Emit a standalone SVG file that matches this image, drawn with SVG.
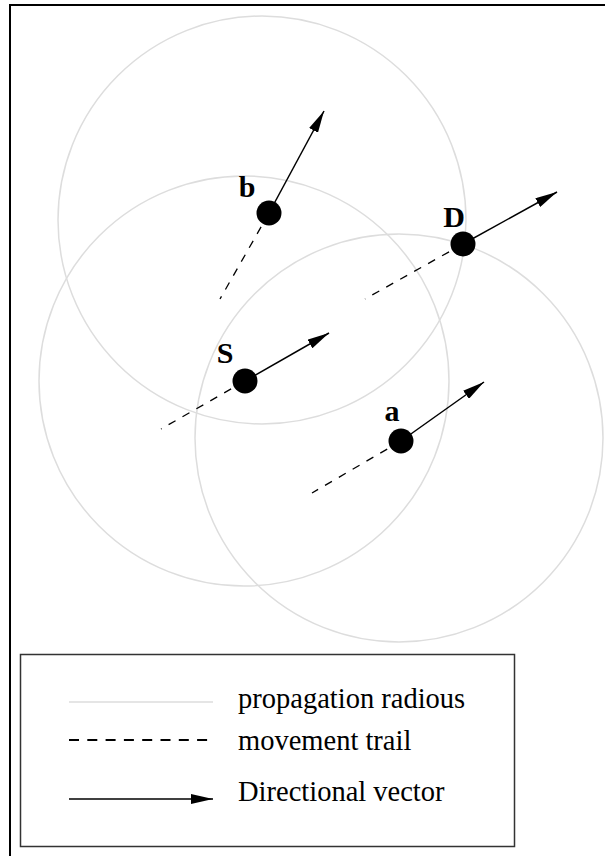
<svg xmlns="http://www.w3.org/2000/svg" width="605" height="856" viewBox="0 0 605 856">
<style>
.rad{fill:none;stroke:#dddddd;stroke-width:1.5}
.trail{stroke:#000;stroke-width:1.3;stroke-dasharray:8 8;fill:none}
.vec{stroke:#000;stroke-width:1.5;fill:none;marker-end:url(#ah)}
.node{fill:#000}
.lbl{font-family:"Liberation Serif","Times New Roman",serif;font-weight:bold;font-size:30px;fill:#000;text-anchor:middle}
.leg{font-family:"Liberation Serif","Times New Roman",serif;font-size:28.5px;fill:#000}
</style>
<defs>
<marker id="ah" viewBox="0 0 22 10" refX="22" refY="5" markerWidth="22" markerHeight="10" markerUnits="userSpaceOnUse" orient="auto">
<path d="M0,0 L22,5 L0,10 z" fill="#000"/>
</marker>
</defs>
<rect x="0" y="0" width="605" height="856" fill="#fff"/>
<rect x="10" y="5" width="620" height="880" fill="none" stroke="#000" stroke-width="2"/>
<g id="radii">
<circle class="rad" cx="262" cy="220" r="204"/>
<circle class="rad" cx="244" cy="381" r="205"/>
<circle class="rad" cx="399" cy="438" r="204"/>
</g>
<g id="connectors">
<line class="trail" x1="269" y1="213" x2="220" y2="299"/>
<line class="vec" x1="269" y1="213" x2="324" y2="111"/>
<line class="trail" x1="463" y1="244" x2="365" y2="299"/>
<line class="vec" x1="463" y1="244" x2="557" y2="192"/>
<line class="trail" x1="245" y1="381" x2="161" y2="429"/>
<line class="vec" x1="245" y1="381" x2="329" y2="333"/>
<line class="trail" x1="401" y1="441" x2="312" y2="493"/>
<line class="vec" x1="401" y1="441" x2="484" y2="382"/>
</g>
<g id="node-b"><circle class="node" cx="269" cy="213" r="12.5"/><text class="lbl" x="247" y="197">b</text></g>
<g id="node-D"><circle class="node" cx="463" cy="244" r="12.5"/><text class="lbl" x="454" y="227">D</text></g>
<g id="node-S"><circle class="node" cx="245" cy="381" r="12.5"/><text class="lbl" x="225" y="363">S</text></g>
<g id="node-a"><circle class="node" cx="401" cy="441" r="12.5"/><text class="lbl" x="392" y="421">a</text></g>
<g id="legend">
<rect x="20.5" y="654.5" width="494" height="192" fill="#fff" stroke="#333" stroke-width="1.5"/>
<line x1="69" y1="702" x2="213" y2="702" stroke="#dddddd" stroke-width="1.5"/>
<line x1="69" y1="740" x2="213" y2="740" stroke="#000" stroke-width="1.8" stroke-dasharray="10 8.3"/>
<line x1="69" y1="799" x2="213" y2="799" stroke="#000" stroke-width="1.5" marker-end="url(#ah)"/>
<text class="leg" x="238" y="708">propagation radious</text>
<text class="leg" x="238" y="750">movement trail</text>
<text class="leg" x="238" y="801">Directional vector</text>
</g>
</svg>
